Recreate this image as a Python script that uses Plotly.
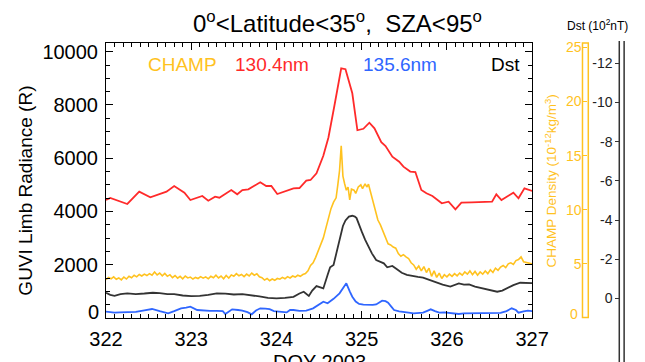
import plotly.graph_objects as go

# ---------------- data ----------------
red_x = [322.00, 322.05, 322.25, 322.39, 322.52, 322.71, 322.80, 322.92, 322.99, 323.13, 323.20, 323.28,
         323.33, 323.47, 323.54, 323.60, 323.67, 323.81, 323.88, 323.94, 324.01, 324.20, 324.27, 324.35,
         324.40, 324.47, 324.55, 324.61, 324.68, 324.76, 324.81, 324.89, 324.95, 325.02, 325.09, 325.15,
         325.23, 325.28, 325.36, 325.44, 325.49, 325.57, 325.63, 325.70, 325.76, 325.83, 325.94, 326.02,
         326.10, 326.17, 326.29, 326.48, 326.53, 326.58, 326.64, 326.78, 326.84, 326.91, 327.00]
red_y = [4431, 4506, 4281, 4743, 4533, 4743, 4957, 4705, 4431, 4581, 4405, 4555,
         4517, 4807, 4645, 4807, 4833, 5096, 4957, 4957, 4656, 4871, 4882, 5156,
         5182, 5434, 6090, 6780, 7970, 9377, 9345, 8438, 7050, 7105, 7334, 7123,
         6600, 6459, 6057, 5869, 5682, 5500, 5483, 4807, 4683, 4581, 4307, 4367,
         4082, 4330, 4345, 4367, 4367, 4645, 4431, 4705, 4495, 4871, 4769]

blue_x = [322.00, 322.05, 322.10, 322.16, 322.25, 322.35, 322.45, 322.54, 322.63, 322.68, 322.73, 322.80,
          322.88, 322.94, 322.99, 323.07, 323.15, 323.22, 323.30, 323.37, 323.40, 323.48, 323.55, 323.60,
          323.66, 323.71, 323.76, 323.81, 323.87, 323.92, 323.97, 324.01, 324.06, 324.12, 324.16, 324.20,
          324.27, 324.35, 324.43, 324.50, 324.55, 324.60, 324.67, 324.74, 324.78, 324.82, 324.86, 324.89,
          324.93, 324.97, 325.02, 325.08, 325.13, 325.17, 325.24, 325.28, 325.31, 325.35, 325.38, 325.44,
          325.49, 325.55, 325.61, 325.66, 325.72, 325.77, 325.81, 325.86, 325.91, 325.97, 326.02, 326.08,
          326.14, 326.20, 326.25, 326.31, 326.36, 326.42, 326.48, 326.55, 326.63, 326.70, 326.76, 326.81,
          326.84, 326.90, 326.95, 327.00]
blue_y = [237, 220, 205, 214, 220, 230, 290, 338, 255, 200, 175, 260,
          364, 390, 424, 300, 270, 265, 270, 260, 150, 326, 300, 280,
          220, 139, 280, 364, 350, 330, 260, 240, 220, 210, 300, 300,
          270, 280, 364, 500, 613, 552, 720, 927, 1100, 1303, 1000, 800,
          620, 526, 500, 488, 490, 510, 650, 630, 575, 420, 300, 250,
          237, 200, 175, 190, 200, 270, 326, 260, 200, 210, 190, 180,
          150, 170, 175, 160, 190, 180, 175, 190, 195, 260, 364, 300,
          200, 250, 280, 260]

champ_x = [322.00, 322.03, 322.06, 322.09, 322.12, 322.15, 322.18, 322.21, 322.24, 322.27, 322.30, 322.33,
           322.36, 322.39, 322.42, 322.45, 322.48, 322.51, 322.54, 322.57, 322.60, 322.63, 322.66, 322.69,
           322.72, 322.75, 322.78, 322.81, 322.84, 322.87, 322.90, 322.93, 322.96, 322.99, 323.02, 323.05,
           323.08, 323.11, 323.14, 323.17, 323.20, 323.23, 323.26, 323.29, 323.32, 323.35, 323.38, 323.41,
           323.44, 323.47, 323.50, 323.53, 323.56, 323.59, 323.62, 323.65, 323.68, 323.71, 323.74, 323.77,
           323.80, 323.83, 323.86, 323.89, 323.92, 323.95, 323.98, 324.01, 324.04, 324.07, 324.10, 324.13,
           324.16, 324.19, 324.22, 324.25, 324.28, 324.31, 324.34, 324.37, 324.40, 324.43, 324.46, 324.49,
           324.52, 324.55, 324.58, 324.61, 324.64, 324.67, 324.70, 324.72, 324.74, 324.76, 324.78, 324.80,
           324.82, 324.84, 324.86, 324.88, 324.91, 324.93, 324.96, 324.99, 325.01, 325.04, 325.06, 325.08,
           325.10, 325.13, 325.16, 325.19, 325.22, 325.25, 325.28, 325.31, 325.34, 325.37, 325.40, 325.43,
           325.46, 325.49, 325.52, 325.55, 325.58, 325.61, 325.64, 325.67, 325.70, 325.73, 325.76, 325.79,
           325.82, 325.85, 325.88, 325.91, 325.94, 325.97, 326.00, 326.03, 326.06, 326.09, 326.12, 326.15,
           326.18, 326.21, 326.24, 326.27, 326.30, 326.33, 326.36, 326.39, 326.42, 326.45, 326.48, 326.51,
           326.54, 326.57, 326.60, 326.63, 326.66, 326.69, 326.72, 326.75, 326.78, 326.81, 326.84, 326.87,
           326.90, 326.93, 326.96, 327.00]
champ_y = [3.55, 3.75, 3.62, 3.80, 3.58, 3.70, 3.52, 3.78, 3.60, 3.85, 3.72, 3.95,
           3.80, 4.02, 3.88, 4.05, 3.92, 4.10, 3.95, 4.25, 3.98, 4.15, 3.90, 4.12,
           3.85, 4.00, 3.72, 3.92, 3.68, 3.85, 3.62, 3.88, 3.70, 3.78, 3.60, 3.75,
           3.65, 3.82, 3.68, 3.80, 3.62, 3.85, 3.72, 3.95, 3.70, 3.88, 3.62, 3.92,
           3.68, 3.98, 3.85, 4.10, 3.90, 4.02, 3.82, 4.05, 3.88, 4.15, 3.95, 4.08,
           3.80, 3.72, 3.50, 3.65, 3.45, 3.60, 3.48, 3.65, 3.58, 3.75, 3.62, 3.82,
           3.70, 3.88, 3.78, 3.95, 3.85, 4.02, 4.10, 4.35, 4.85, 5.10, 5.60, 6.20,
           6.85, 7.40, 8.30, 9.20, 10.10, 10.70, 11.10, 12.30, 13.60, 15.90, 13.10, 12.40,
           11.80, 12.10, 10.90, 11.90, 11.80, 11.50, 12.10, 12.30, 11.95, 12.40, 12.10, 12.35,
           11.70, 10.90, 9.80, 9.05, 8.60, 7.95, 7.40, 6.85, 6.75, 6.55, 6.45, 5.95,
           5.70, 5.85, 5.65, 5.50, 5.10, 4.90, 4.50, 4.80, 4.35, 4.75, 4.20, 4.60,
           3.85, 4.35, 3.75, 4.15, 3.65, 4.00, 3.80, 4.05, 3.85, 4.10, 3.90, 4.15,
           3.95, 4.25, 4.05, 4.35, 4.00, 4.30, 3.95, 4.25, 4.05, 4.35, 4.10, 4.45,
           4.20, 4.60, 4.40, 4.70, 4.85, 4.65, 5.00, 5.10, 4.95, 5.30, 5.40, 5.65,
           5.20, 5.15, 5.05, 5.00]

dst_x = [322.00, 322.05, 322.10, 322.17, 322.25, 322.35, 322.45, 322.55, 322.63, 322.72, 322.80, 322.90,
         323.00, 323.10, 323.20, 323.30, 323.40, 323.50, 323.60, 323.70, 323.80, 323.90, 324.00, 324.10,
         324.20, 324.27, 324.32, 324.38, 324.42, 324.47, 324.52, 324.55, 324.60, 324.63, 324.67, 324.70,
         324.74, 324.78, 324.81, 324.85, 324.89, 324.92, 324.94, 324.97, 325.00, 325.04, 325.08, 325.12,
         325.17, 325.22, 325.26, 325.30, 325.36, 325.41, 325.47, 325.53, 325.59, 325.66, 325.72, 325.80,
         325.87, 325.95, 326.04, 326.09, 326.14, 326.20, 326.26, 326.33, 326.40, 326.48, 326.55, 326.59,
         326.65, 326.70, 326.78, 326.86, 326.93, 327.00]
dst_y = [-0.29, -0.18, -0.13, -0.22, -0.26, -0.22, -0.25, -0.29, -0.27, -0.22, -0.22, -0.15,
         -0.12, -0.13, -0.18, -0.26, -0.24, -0.20, -0.22, -0.17, -0.10, -0.03, 0.00, -0.03,
         -0.08, -0.25, -0.34, -0.13, -0.40, -0.63, -0.55, -0.51, -1.20, -1.59, -1.71, -2.30,
         -2.99, -3.70, -3.98, -4.18, -4.22, -4.18, -4.10, -3.80, -3.42, -3.00, -2.65, -2.30,
         -1.96, -1.85, -1.79, -1.59, -1.66, -1.50, -1.31, -1.20, -1.14, -1.10, -1.06, -0.93,
         -0.80, -0.70, -0.60, -0.70, -0.77, -0.70, -0.72, -0.60, -0.52, -0.43, -0.36, -0.34,
         -0.40, -0.51, -0.68, -0.80, -0.80, -0.78]

x_ticks = [322, 323, 324, 325, 326, 327]
x_labels = ["322", "323", "324", "325", "326", "327"]
y_ticks = [2000, 4000, 6000, 8000, 10000]
y_labels = ["2000", "4000", "6000", "8000", "10000"]
champ_ticks = [5, 10, 15, 20, 25]
champ_labels = ["5", "10", "15", "20", "25"]
dst_ticks = [-12, -10, -8, -6, -4, -2, 0]
dst_labels = ["-12", "-10", "-8", "-6", "-4", "-2", "0"]

# ---------------- style ----------------
RED = "#ff2a2a"
BLUE = "#2f66ff"
GOLD = "#ffc21f"
DARK = "#333333"
FONT = "Liberation Sans, Arial, sans-serif"

W, H = 645, 362
L, T, B = 106, 43, 44
PW = W - L          # paper width in px (margin r = 0)
PH = H - T - B      # 275


def px(xp):
    return (xp - L) / PW


def py(yp):
    return (H - B - yp) / PH


fig = go.Figure()
fig.add_trace(go.Scatter(x=red_x, y=red_y, mode="lines", line=dict(color=RED, width=1.8),
                         xaxis="x", yaxis="y", showlegend=False))
fig.add_trace(go.Scatter(x=blue_x, y=blue_y, mode="lines", line=dict(color=BLUE, width=1.8),
                         xaxis="x", yaxis="y", showlegend=False))
fig.add_trace(go.Scatter(x=champ_x, y=champ_y, mode="lines", line=dict(color=GOLD, width=1.6),
                         xaxis="x", yaxis="y2", showlegend=False))
fig.add_trace(go.Scatter(x=dst_x, y=dst_y, mode="lines", line=dict(color=DARK, width=1.8),
                         xaxis="x", yaxis="y3", showlegend=False))

xdom_end = (546 - L) / PW
tick_common = dict(ticks="inside", ticklen=7, tickcolor="black", tickwidth=1,
                   showgrid=False, zeroline=False)

fig.update_layout(
    width=W, height=H,
    margin=dict(l=L, r=0, t=T, b=B, pad=0),
    paper_bgcolor="white", plot_bgcolor="white",
    font=dict(family=FONT, color="black"),
    xaxis=dict(domain=[0, xdom_end], range=[322, 327], tickvals=x_ticks, ticktext=x_labels,
               showline=True, linecolor="black", linewidth=1, mirror=True,
               minor=dict(ticks="inside", dtick=0.1, ticklen=4, tickcolor="black", tickwidth=1),
               tickfont=dict(size=20, family=FONT), ticklabelstandoff=3, **tick_common),
    xaxis2=dict(overlaying="x", side="top", anchor="y", matches="x", range=[322, 327],
                tickvals=x_ticks, showticklabels=False,
                minor=dict(ticks="inside", dtick=0.1, ticklen=4, tickcolor="black", tickwidth=1),
                **tick_common),
    yaxis=dict(range=[0, 10327], tickvals=y_ticks, ticktext=y_labels,
               showline=True, linecolor="black", linewidth=1, mirror=True,
               minor=dict(ticks="inside", dtick=500, ticklen=4, tickcolor="black", tickwidth=1),
               tickfont=dict(size=20, family=FONT), ticklabelstandoff=3, **tick_common),
    yaxis4=dict(overlaying="y", side="right", anchor="x", range=[0, 10327],
                tickvals=y_ticks, showticklabels=False,
                minor=dict(ticks="inside", dtick=500, ticklen=4, tickcolor="black", tickwidth=1),
                **tick_common),
    yaxis2=dict(overlaying="y", anchor="free", position=px(598), side="left",
                range=[0, 25.4], tickvals=champ_ticks, ticktext=champ_labels, showline=False,
                ticks="inside", ticklen=4, tickcolor=GOLD, showgrid=False, zeroline=False,
                tickfont=dict(size=14, color=GOLD, family=FONT), ticklabelstandoff=1),
    yaxis3=dict(overlaying="y", anchor="free", position=px(636), side="left",
                range=[1.0, -13.04], tickvals=dst_ticks, ticktext=dst_labels, showline=False,
                ticks="outside", ticklen=4, tickcolor=DARK, showgrid=False, zeroline=False,
                tickfont=dict(size=14, color="#222", family=FONT), ticklabelstandoff=0),
)

# invisible helper traces so the mirrored tick axes get drawn
fig.add_trace(go.Scatter(x=[322, 327], y=[None, None], xaxis="x2", yaxis="y", mode="lines",
                         showlegend=False, hoverinfo="skip"))
fig.add_trace(go.Scatter(x=[322, 327], y=[None, None], xaxis="x", yaxis="y4", mode="lines",
                         showlegend=False, hoverinfo="skip"))

shapes = [
    dict(type="rect", xref="paper", yref="paper", x0=px(598), x1=px(604), y0=py(317.5), y1=py(43),
         line=dict(color=GOLD, width=1.5)),
    dict(type="line", xref="paper", yref="paper", x0=px(636), x1=px(636), y0=py(362), y1=py(41),
         line=dict(color=DARK, width=1.5)),
    dict(type="line", xref="paper", yref="paper", x0=px(641), x1=px(641), y0=py(362), y1=py(41),
         line=dict(color=DARK, width=1.5)),
]
fig.update_layout(shapes=shapes)

ann = []


def add_text(text, x, y, size, color="black", xanchor="center", yanchor="middle", angle=0):
    ann.append(dict(text=text, x=px(x), y=py(y), xref="paper", yref="paper", showarrow=False,
                    xanchor=xanchor, yanchor=yanchor, textangle=angle,
                    font=dict(size=size, color=color, family=FONT)))


add_text("0<sup>o</sup>&lt;Latitude&lt;35<sup>o</sup>,  SZA&lt;95<sup>o</sup>", 345, 22, 24)
add_text("GUVI Limb Radiance (R)", 22, 191, 19, angle=-90)
add_text("DOY 2003", 326, 362, 20)
add_text("0", 101, 312, 20, xanchor="right")
add_text("CHAMP", 185, 64.5, 19, color=GOLD)
add_text("130.4nm", 277, 64.5, 19, color=RED)
add_text("135.6nm", 410, 64.5, 19, color=BLUE)
add_text("Dst", 518, 64.5, 19, color="black")
add_text("0", 595, 314, 14, color=GOLD, xanchor="right")
add_text("CHAMP Density (10<sup>-12</sup>kg/m<sup>3</sup>)", 565, 181, 13.5, color=GOLD, angle=-90)
add_text("Dst (10<sup>2</sup>nT)", 580, 25, 12, xanchor="left")
fig.update_layout(annotations=ann)

fig.write_html("out.html")
